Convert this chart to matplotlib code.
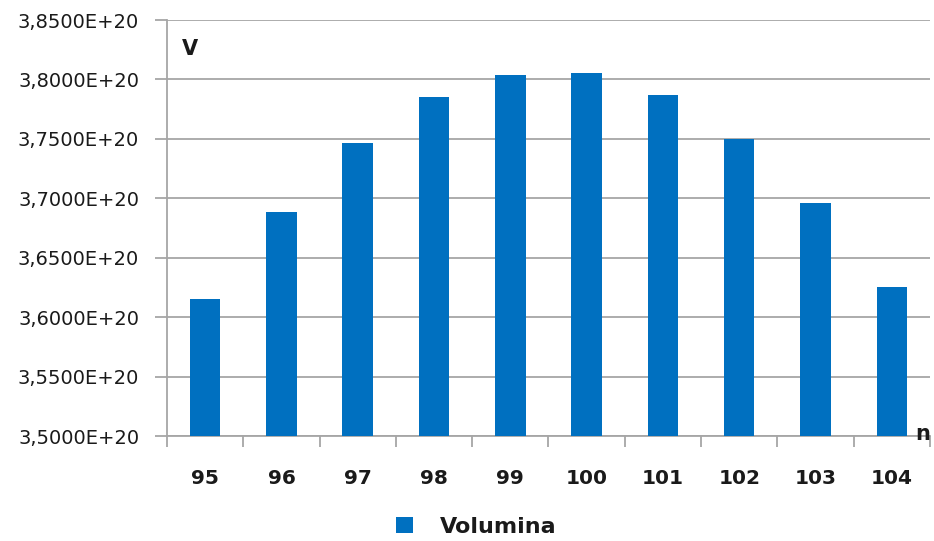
import matplotlib
matplotlib.use("Agg")
import matplotlib.pyplot as plt
import numpy as np
from matplotlib.ticker import FuncFormatter, FixedLocator

# volume V as a function of n
n_values = [95, 96, 97, 98, 99, 100, 101, 102, 103, 104]
volumes = [3.6151e20, 3.6888e20, 3.7464e20, 3.7851e20, 3.8039e20,
           3.8056e20, 3.7870e20, 3.7497e20, 3.6959e20, 3.6252e20]
y_ticks = [3.50e20, 3.55e20, 3.60e20, 3.65e20, 3.70e20, 3.75e20, 3.80e20, 3.85e20]

bar_color = "#0070C0"
grid_color = "#A6A6A6"
text_color = "#1a1a1a"

fig = plt.figure(figsize=(9.34, 5.41), dpi=100)
ax = fig.add_axes([0.1788, 0.194, 0.8169, 0.769])

x = np.arange(len(n_values))
bars = ax.bar(x, volumes, width=0.4, color=bar_color, zorder=3, label="Volumina")

ax.set_xlim(-0.5, len(n_values) - 0.5)
ax.set_ylim(y_ticks[0], y_ticks[-1])

def sci_comma(v, pos):
    return ("%.4E" % v).replace(".", ",")

ax.yaxis.set_major_locator(FixedLocator(y_ticks))
ax.yaxis.set_major_formatter(FuncFormatter(sci_comma))
ax.grid(axis="y", color=grid_color, linewidth=1.3, zorder=0)
ax.tick_params(axis="y", length=9, width=1.3, color=grid_color, pad=11,
               labelsize=14, labelcolor=text_color)

ax.set_xticks(x)
ax.set_xticklabels([str(v) for v in n_values], fontweight="bold")
ax.set_xticks(np.arange(-0.5, len(n_values)), minor=True)
ax.tick_params(axis="x", which="major", length=0, pad=24,
               labelsize=14.5, labelcolor=text_color)
ax.tick_params(axis="x", which="minor", length=8, width=1.3, color=grid_color)

for side in ("top", "right"):
    ax.spines[side].set_visible(False)
for side in ("left", "bottom"):
    ax.spines[side].set_color(grid_color)
    ax.spines[side].set_linewidth(1.3)

# axis names placed inside the plot corners
ax.text(0.02, 0.93, "V", transform=ax.transAxes, fontsize=15,
        fontweight="bold", color=text_color, va="center", ha="left")
ax.text(1.0, 0.005, "n", transform=ax.transAxes, fontsize=15,
        fontweight="bold", color=text_color, va="center", ha="right")

leg = fig.legend(handles=[bars], labels=["Volumina"], loc="center",
                 bbox_to_anchor=(0.51, 0.026), frameon=False, handlelength=0.75,
                 handleheight=0.75, handletextpad=1.2,
                 prop={"size": 16, "weight": "bold"})
for t in leg.get_texts():
    t.set_color(text_color)

fig.savefig("out.png", dpi=100)
